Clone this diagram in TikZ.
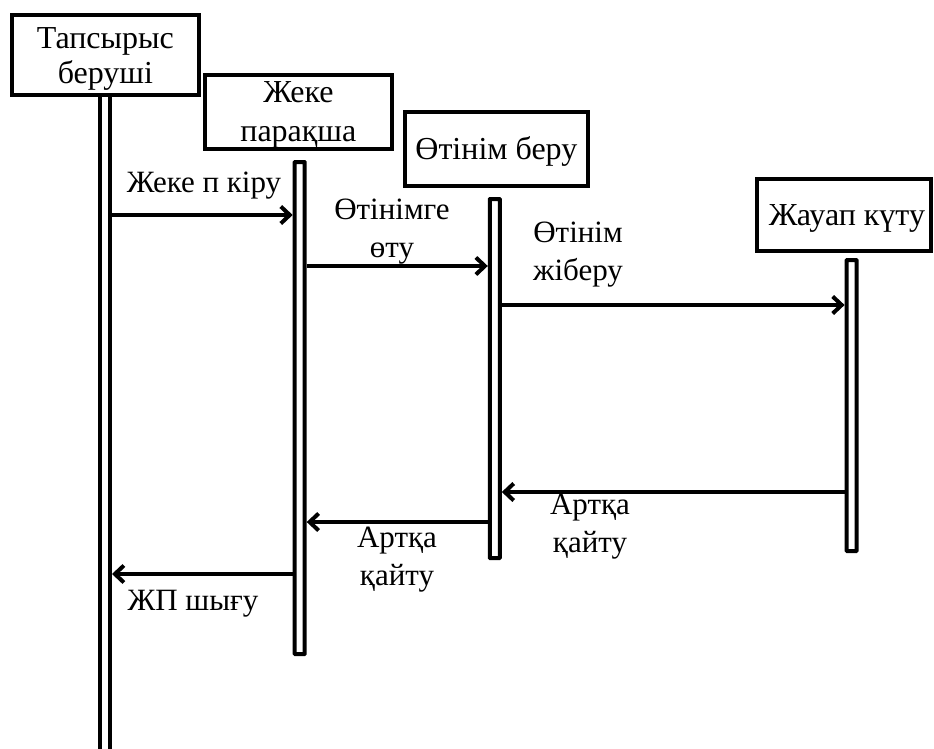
\documentclass[tikz,border=0pt]{standalone}
\usepackage{fontspec}
\setmainfont{LiberationSerif}[Extension=.ttf, UprightFont=*-Regular, BoldFont=*-Bold]
\usetikzlibrary{arrows.meta}
\tikzset{
  actor/.style={draw, line width=4pt, inner sep=0pt, align=center,
    font=\fontsize{32}{36}\selectfont},
  lifeline/.style={draw, line width=4pt, inner sep=0pt, minimum width=10pt, rounded corners=0.5pt},
  msg/.style={line width=4pt, -{Straight Barb[length=9pt,width=17pt,line width=4pt]}},
  lbl/.style={inner sep=0pt, align=center, anchor=base, font=\fontsize{31}{38}\selectfont}
}
\begin{document}
\begin{tikzpicture}[x=1pt,y=-1pt]
\useasboundingbox (0,0) rectangle (934,749);
% actors
\node[actor, minimum width=186.7pt, minimum height=80.3pt, font=\fontsize{32}{35}\selectfont] (a1) at (105.35,54.85) {\rule{0pt}{29pt}Тапсырыс\\беруші};
\node[actor, minimum width=187.3pt, minimum height=74.3pt, font=\fontsize{32}{39}\selectfont] (a2) at (298.35,111.85) {\rule{0pt}{28pt}Жеке\\парақша};
\node[actor, minimum width=183pt, minimum height=74pt] (a3) at (496.35,149) {\rule{0pt}{27pt}Өтінім беру};
\node[actor, minimum width=174pt, minimum height=72.6pt] (a4) at (844,215) {\rule{0pt}{27pt}\hspace*{6pt}Жауап күту};
% lifelines
\node[lifeline, draw=none, minimum height=660pt, anchor=north] (l1) at (105,95) {};
\draw[line width=4pt] ([xshift=2pt]l1.north west) -- ([xshift=2pt]l1.south west);
\draw[line width=4pt] ([xshift=-2pt]l1.north east) -- ([xshift=-2pt]l1.south east);
\node[lifeline, minimum height=492pt] (l2) at (299.7,408) {};
\node[lifeline, minimum height=359pt] (l3) at (494.8,378.5) {};
\node[lifeline, minimum height=291pt] (l4) at (851.6,405.5) {};
% messages
\coordinate (m1) at (0,215);
\coordinate (m2) at (0,266);
\coordinate (m3) at (0,305);
\coordinate (m4) at (0,492);
\coordinate (m5) at (0,522);
\coordinate (m6) at (0,574);
\draw[msg] (l1.east |- m1) -- (l2.west |- m1);
\draw[msg] (l2.east |- m2) -- (l3.west |- m2);
\draw[msg] (l3.east |- m3) -- (l4.west |- m3);
\draw[msg] (l4.west |- m4) -- (l3.east |- m4);
\draw[msg] (l3.west |- m5) -- (l2.east |- m5);
\draw[msg] (l2.west |- m6) -- (l1.east |- m6);
% labels (anchor base = last line)
\node[lbl] (t1) at (204,192) {Жеке п кіру};
\node[lbl] (t2) at (392,257) {Өтінімге\\өту};
\node[lbl] (t3) at (578,280) {Өтінім\\жіберу};
\node[lbl] (t4) at (590,552) {Артқа\\қайту};
\node[lbl] (t5) at (397,585) {Артқа\\қайту};
\node[lbl] (t6) at (193,610) {ЖП шығу};
\end{tikzpicture}
\end{document}
